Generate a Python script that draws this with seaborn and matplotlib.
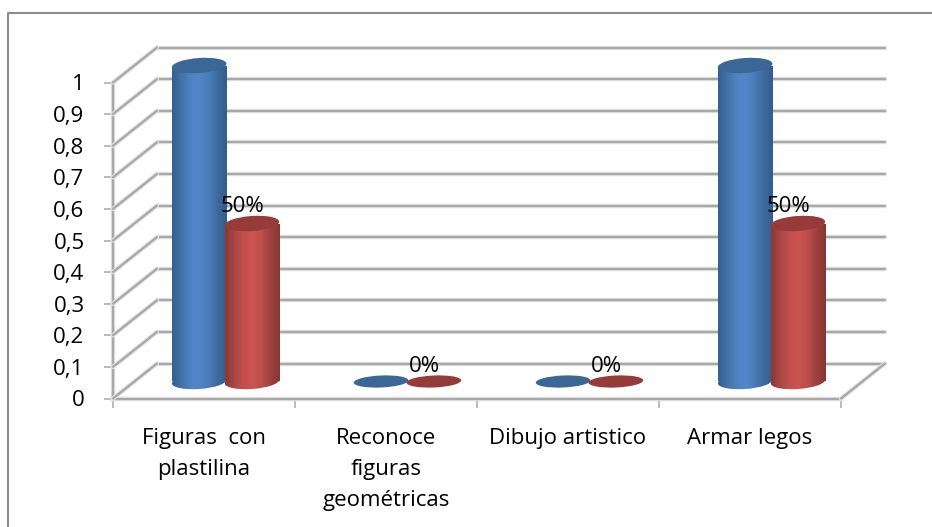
import numpy as np
import pandas as pd
import matplotlib
matplotlib.use("Agg")
import matplotlib.pyplot as plt
import seaborn as sns
from matplotlib.colors import LinearSegmentedColormap
from matplotlib.lines import Line2D
from matplotlib.patches import Ellipse, Rectangle
from matplotlib.transforms import IdentityTransform
import matplotlib.patheffects as pe

categories = ["Figuras  con\nplastilina", "Reconoce\nfiguras\ngeométricas", "Dibujo artistico", "Armar legos"]
blue_values = [1, 0, 0, 1]
red_values = [0.5, 0, 0, 0.5]
red_labels = ["50%", "0%", "0%", "50%"]
y_ticks = [0, 0.1, 0.2, 0.3, 0.4, 0.5, 0.6, 0.7, 0.8, 0.9, 1]
y_tick_labels = ["0", "0,1", "0,2", "0,3", "0,4", "0,5", "0,6", "0,7", "0,8", "0,9", "1"]

W, H = 932, 527
LEFT, RIGHT, FLOOR, TOP = 113, 841, 398.5, 82.5
DX, DY = 44, 35
GRID = "#a8a8a8"
FONT_SIZE = 16

sns.set_theme(style="white")
plt.rcParams["font.family"] = ["Open Sans", "DejaVu Sans"]

df = pd.DataFrame({
    "categoria": categories * 2,
    "valor": blue_values + red_values,
    "serie": ["azul"] * 4 + ["rojo"] * 4,
})

fig = plt.figure(figsize=(W / 100, H / 100), dpi=100)
fig.patch.set_facecolor("white")


def axes_at(dx, dy):
    # same plot box, moved back into the 3d depth by dx, dy pixels
    a = fig.add_axes([(LEFT + dx) / W, (H - FLOOR + dy) / H, (RIGHT - LEFT) / W, (FLOOR - TOP) / H])
    a.set_xlim(-0.5, 3.5)
    a.set_ylim(0, 1)
    a.patch.set_alpha(0)
    return a


soft = [pe.Stroke(linewidth=3.2, foreground="#e2e2e2"), pe.Normal()]

# frame of the picture, only left and top
fig.add_artist(Line2D([8 / W, 8 / W, 1], [0, 1 - 12.5 / H, 1 - 12.5 / H], color="#8c8c8c", lw=1.5))

# back wall
wall = axes_at(DX, DY)
wall.set_yticks(y_ticks)
wall.set_xticks([])
sns.despine(ax=wall, left=True, bottom=True)
wall.grid(axis="y", color=GRID, lw=1.6, path_effects=soft)
for line in wall.get_ygridlines():
    line.set_clip_on(False)
wall.tick_params(left=False, labelleft=False)

# front axis
ax = axes_at(0, 0)
sns.despine(ax=ax)
for s in ["left", "bottom"]:
    ax.spines[s].set_color(GRID)
    ax.spines[s].set_linewidth(1.6)
    ax.spines[s].set_path_effects(soft)
ax.set_yticks(y_ticks, y_tick_labels)
ax.set_xticks(np.arange(-0.5, 4, 1))
ax.set_xticklabels([])
ax.set_xticks(range(4), categories, minor=True)
ax.tick_params(axis="y", length=6.5, width=1.1, color=GRID, left=True, labelsize=FONT_SIZE, pad=14, labelcolor="black")
ax.tick_params(axis="x", which="major", length=6.5, width=1.1, color=GRID, bottom=True)
ax.tick_params(axis="x", which="minor", length=0, labelsize=FONT_SIZE, pad=21, labelcolor="black")
for lab in ax.get_xticklabels(minor=True):
    lab.set_linespacing(1.62)

# side walls and floor edges
for v in y_ticks:
    py = H - (FLOOR - (FLOOR - TOP) * v)
    fig.add_artist(Line2D([LEFT / W, (LEFT + DX) / W], [py / H, (py + DY) / H], color=GRID, lw=1.6, path_effects=soft))
py = H - FLOOR
fig.add_artist(Line2D([RIGHT / W, (RIGHT + DX) / W], [py / H, (py + DY) / H], color=GRID, lw=1.6, path_effects=soft))

# bars stand half way into the depth
bars = axes_at(DX / 2 - 0.5, DY / 2 - 0.5)
sns.barplot(data=df, x="categoria", y="valor", hue="serie", order=categories,
            palette=["#4f81bd", "#c0504d"], width=0.58, gap=0, legend=False, ax=bars, linewidth=0, saturation=1)
bars.set_xlim(-0.5, 3.5)
bars.set_ylim(0, 1)
bars.axis("off")

blue_map = LinearSegmentedColormap.from_list("b", ["#33608f", "#4272a8", "#4f82c2", "#5087c9", "#4a7db9", "#3c6a9e", "#335d8c"])
red_map = LinearSegmentedColormap.from_list("r", ["#8a3836", "#a84644", "#c24f4d", "#cc5452", "#be4e4c", "#9c4140", "#863634"])
gradient = np.linspace(0, 1, 128).reshape(1, -1)
tops = ["#3b6797", "#963b39"]

for cont, cmap, top in zip(bars.containers, [blue_map, red_map], tops):
    for rect in cont:
        x0, w, h = rect.get_x() - 0.004, rect.get_width() + 0.008, rect.get_height()
        (px0, py0), (px1, py1) = bars.transData.transform([(x0, 0), (x0 + w, h)])
        cx, pw = (px0 + px1) / 2, px1 - px0 + 0.5
        if h > 0:
            rect.set_visible(False)
            # round bottom first, then the straight body
            base = Ellipse((cx, py0), pw, 15, angle=4, transform=IdentityTransform(), fc="none", ec="none")
            bars.add_patch(base)
            im = bars.imshow(gradient, cmap=cmap, aspect="auto", extent=(x0, x0 + w, -0.05, 0.05),
                             interpolation="bilinear", zorder=2)
            im.set_clip_path(base)
            im.set_clip_box(fig.bbox)
            body = Rectangle((x0, 0), w, h, transform=bars.transData, fc="none", ec="none")
            bars.add_patch(body)
            im = bars.imshow(gradient, cmap=cmap, aspect="auto", extent=(x0, x0 + w, 0, h),
                             interpolation="bilinear", zorder=2)
            im.set_clip_path(body)
        e = Ellipse((cx, py1), pw, 15 if h > 0 else 12, angle=4 if h > 0 else 2.5,
                    transform=IdentityTransform(), fc=top, ec="none", zorder=3)
        bars.add_patch(e)
        e.set_clip_on(False)
bars.set_xlim(-0.5, 3.5)
bars.set_ylim(0, 1)

# data labels sit up and to the left of the red bars
for rect, val, txt in zip(bars.containers[1], red_values, red_labels):
    bars.annotate(txt, (rect.get_x() + rect.get_width() / 2, val), xytext=(-9, 17 if val else 15),
                  textcoords="offset pixels", ha="center", va="center", fontsize=FONT_SIZE, color="black",
                  annotation_clip=False, zorder=5)

fig.savefig("out.png", dpi=100)
